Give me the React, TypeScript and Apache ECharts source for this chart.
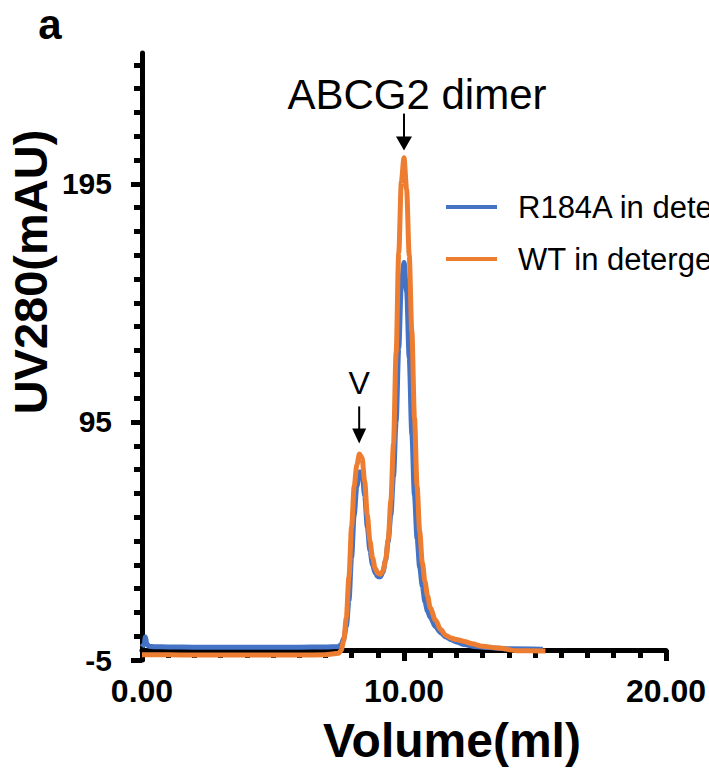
import React, { useEffect, useRef } from "react";
import * as echarts from "echarts";

// ---- data ----
const seriesNames = ["R184A in detergent", "WT in detergent"];
const seriesColors = ["#4472C4", "#ED7D31"];

const volumeR184A = [0, 0.08, 0.13, 0.18, 0.25, 0.5, 1, 2, 3, 4, 5, 6, 7, 7.5, 7.6, 7.7, 7.8, 7.9, 8.0, 8.1, 8.2, 8.3, 8.4, 8.5, 8.6, 8.7, 8.8, 8.9, 9.0, 9.1, 9.2, 9.3, 9.4, 9.5, 9.6, 9.7, 9.8, 9.9, 10.0, 10.1, 10.2, 10.3, 10.4, 10.5, 10.6, 10.7, 10.8, 10.9, 11.0, 11.2, 11.4, 11.6, 11.8, 12.0, 12.3, 12.7, 13.2, 14.0, 15.3];
const uvR184A = [0.5, 1.5, 4.7, 2.0, 0.8, 0.6, 0.5, 0.4, 0.4, 0.4, 0.4, 0.4, 0.5, 0.7, 1.5, 4, 9, 20, 38, 56, 68, 74, 74, 64, 51, 41, 35, 31.5, 30, 30, 32, 37, 45, 56, 72, 95, 126, 153, 162, 150, 122, 90, 64, 46, 34, 26, 19.5, 15.5, 13, 9, 6.5, 4.7, 3.5, 2.6, 1.5, 0.7, 0.2, -0.3, -0.5];

const volumeWT = [0, 1, 2, 3, 4, 5, 6, 7, 7.5, 7.6, 7.7, 7.8, 7.9, 8.0, 8.1, 8.2, 8.3, 8.4, 8.5, 8.6, 8.7, 8.8, 8.9, 9.0, 9.1, 9.2, 9.3, 9.4, 9.5, 9.6, 9.7, 9.8, 9.9, 10.0, 10.1, 10.2, 10.3, 10.4, 10.5, 10.6, 10.7, 10.8, 10.9, 11.0, 11.2, 11.4, 11.6, 11.8, 12.0, 12.3, 12.6, 13.0, 13.6, 14.3, 15.4];
const uvWT = [-2.8, -2.8, -2.9, -2.9, -2.9, -2.9, -2.9, -2.8, -2.2, -1, 3, 13, 30, 51, 68, 77, 81.5, 80, 70, 56, 45, 38, 33.5, 31.5, 31, 32.5, 37, 46, 62, 86, 124, 166, 196, 206, 193, 165, 133, 97, 68, 49, 36, 28, 22, 17, 11.8, 7.8, 5.3, 4.2, 3.6, 2.8, 1.8, 0.8, 0, -1.1, -1.2];

const xTickValues = [0, 1, 2, 3, 4, 5, 6, 7, 8, 9, 10, 11, 12, 13, 14, 15, 16, 17, 18, 19, 20];
const xLabelValues = [0, 10, 20];
const yTickValues = [-5, 5, 15, 25, 35, 45, 55, 65, 75, 85, 95, 105, 115, 125, 135, 145, 155, 165, 175, 185, 195, 205, 215, 225, 235, 245];
const yLabelValues = [-5, 95, 195];

const dimerLabel = "ABCG2 dimer";
const dimerArrowTip = [10.0, 209];
const vLabel = "V";
const vArrowTip = [8.29, 86];

const FONT = "'Liberation Sans', Arial, Helvetica, sans-serif";

function zipPairs(xs: number[], ys: number[]) {
  return xs.map((x, i) => [x, ys[i]]);
}

export default function App() {
  const ref = useRef<HTMLDivElement>(null);
  useEffect(() => {
    const chart = echarts.init(ref.current!, null, { renderer: "svg" });
    const black = "#000";
    const baseX = {
      type: "value",
      min: 0,
      max: 20,
      position: "bottom",
      offset: -10,
      splitLine: { show: false },
    };
    const baseY = {
      type: "value",
      min: -5,
      max: 250,
      position: "left",
      splitLine: { show: false },
    };
    const option: any = {
      animation: false,
      backgroundColor: "#fff",
      textStyle: { fontFamily: FONT },
      grid: { left: 142, right: 41, top: 53, bottom: 109, containLabel: false },
      xAxis: [
        {
          ...baseX,
          axisLine: { show: true, onZero: false, lineStyle: { color: black, width: 5 } },
          axisTick: { show: true, customValues: xTickValues, length: 8, lineStyle: { color: black, width: 5 } },
          axisLabel: { show: false },
        },
        {
          ...baseX,
          axisLine: { show: false, onZero: false },
          axisTick: { show: true, customValues: xLabelValues, length: 11, lineStyle: { color: black, width: 5 } },
          axisLabel: {
            show: true,
            customValues: xLabelValues,
            formatter: (v: number) => v.toFixed(2),
            margin: 25,
            color: black,
            fontSize: 32,
            fontWeight: "bold",
            fontFamily: FONT,
          },
        },
      ],
      yAxis: [
        {
          ...baseY,
          axisLine: { show: true, lineStyle: { color: black, width: 5 } },
          axisTick: { show: true, customValues: yTickValues, length: 8, lineStyle: { color: black, width: 5 } },
          axisLabel: { show: false },
        },
        {
          ...baseY,
          axisLine: { show: false },
          axisTick: { show: true, customValues: yLabelValues, length: 11, lineStyle: { color: black, width: 5 } },
          axisLabel: {
            show: true,
            customValues: yLabelValues,
            margin: 30,
            color: black,
            fontSize: 30,
            fontWeight: "bold",
            fontFamily: FONT,
          },
        },
      ],
      legend: {
        data: seriesNames,
        orient: "vertical",
        left: 446,
        top: 191,
        padding: 0,
        itemGap: 20,
        itemWidth: 51,
        itemHeight: 4,
        icon: "rect",
        textStyle: { fontSize: 31, lineHeight: 32, color: black, fontFamily: FONT, padding: [0, 0, 0, 16] },
      },
      series: [
        {
          name: seriesNames[0],
          type: "line",
          data: zipPairs(volumeR184A, uvR184A),
          showSymbol: false,
          smooth: 0.3,
          smoothMonotone: "x",
          color: seriesColors[0],
          lineStyle: { width: 5, color: seriesColors[0] },
          z: 3,
        },
        {
          name: seriesNames[1],
          type: "line",
          data: zipPairs(volumeWT, uvWT),
          showSymbol: false,
          smooth: 0.3,
          smoothMonotone: "x",
          color: seriesColors[1],
          lineStyle: { width: 5, color: seriesColors[1] },
          z: 4,
        },
      ],
    };
    chart.setOption(option);

    const d = chart.convertToPixel({ gridIndex: 0 } as any, dimerArrowTip) as number[];
    const v = chart.convertToPixel({ gridIndex: 0 } as any, vArrowTip) as number[];

    const arrow = (x: number, tipY: number, lineLen: number, headH: number, headW: number) => [
      {
        type: "line",
        shape: { x1: x, y1: tipY - headH - lineLen, x2: x, y2: tipY - headH + 1 },
        style: { stroke: black, lineWidth: 2 },
      },
      {
        type: "polygon",
        shape: { points: [[x, tipY], [x - headW / 2, tipY - headH], [x + headW / 2, tipY - headH]] },
        style: { fill: black },
      },
    ];

    chart.setOption({
      graphic: [
        {
          type: "text",
          x: 50,
          y: 24,
          style: { text: "a", font: `bold 42px ${FONT}`, fill: black, align: "center", verticalAlign: "middle" },
        },
        {
          type: "text",
          x: 30,
          y: 272,
          rotation: Math.PI / 2,
          style: { text: "UV280(mAU)", font: `bold 47px ${FONT}`, fill: black, align: "center", verticalAlign: "middle" },
        },
        {
          type: "text",
          x: 452,
          y: 740,
          style: { text: "Volume(ml)", font: `bold 48px ${FONT}`, fill: black, align: "center", verticalAlign: "middle" },
        },
        {
          type: "text",
          x: d[0] + 13,
          y: d[1] - 56,
          style: { text: dimerLabel, font: `42px ${FONT}`, fill: black, align: "center", verticalAlign: "middle" },
        },
        ...arrow(d[0], d[1], 23, 14, 16),
        {
          type: "text",
          x: v[0],
          y: v[1] - 60,
          style: { text: vLabel, font: `32px ${FONT}`, fill: black, align: "center", verticalAlign: "middle" },
        },
        ...arrow(v[0], v[1], 22, 15, 14),
      ],
    });

    return () => chart.dispose();
  }, []);
  return <div ref={ref} style={{ position: "fixed", left: 0, top: 0, width: 709, height: 769 }} />;
}
